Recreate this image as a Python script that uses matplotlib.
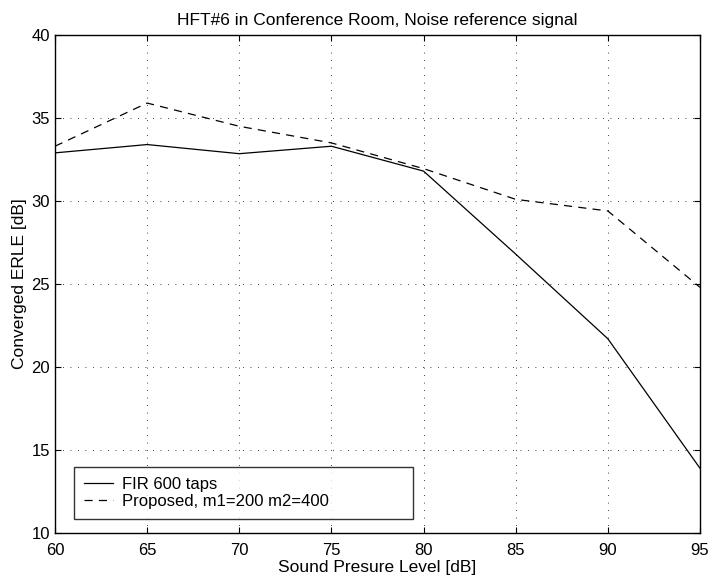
import numpy as np
import matplotlib
matplotlib.use('Agg')
import matplotlib.pyplot as plt

plt.rcParams['font.family'] = ['Liberation Sans', 'DejaVu Sans']

spl = [60, 65, 70, 75, 80, 85, 90, 95]
erle_fir = [32.9, 33.4, 32.85, 33.3, 31.8, 26.8, 21.7, 13.9]
erle_proposed = [33.3, 35.9, 34.5, 33.5, 31.95, 30.1, 29.4, 24.8]
label_fir = 'FIR 600 taps'
label_proposed = 'Proposed, m1=200 m2=400'


def main():
    fig = plt.figure(figsize=(7.13, 5.82), dpi=100)
    ax = fig.add_axes([55 / 713, 1 - 533 / 582, 645 / 713, 498 / 582])

    ax.plot(spl, erle_fir, color='k', lw=0.9, label=label_fir)
    ax.plot(spl, erle_proposed, color='k', lw=0.9, dashes=(6.5, 5),
            label=label_proposed)

    ax.set_xlim(60, 95)
    ax.set_ylim(10, 40)
    ax.set_xticks(np.arange(60, 96, 5))
    ax.set_yticks(np.arange(10, 41, 5))
    ax.grid(True, color='k', linestyle=(0, (1, 8)), lw=0.6)
    ax.tick_params(direction='in', top=True, right=True, labelsize=12,
                   length=4, width=0.8)
    ax.tick_params(axis='x', pad=7.5)
    ax.tick_params(axis='y', pad=3.5)
    for s in ax.spines.values():
        s.set_linewidth(1.0)

    ax.set_title('HFT#6 in Conference Room, Noise reference signal',
                 fontsize=12.5, pad=7)
    ax.set_xlabel('Sound Presure Level [dB]', fontsize=12.5, labelpad=1)
    ax.set_ylabel('Converged ERLE [dB]', fontsize=12.5, labelpad=3)

    leg = ax.legend(loc='lower left',
                    bbox_to_anchor=(19 / 645, 14 / 498, 339 / 645, 0.1),
                    mode='expand', fontsize=12, frameon=True, fancybox=False,
                    borderaxespad=0, handlelength=1.75, labelspacing=0.15,
                    borderpad=0.6, handletextpad=0.5)
    leg.get_frame().set_edgecolor('k')
    leg.get_frame().set_linewidth(1.0)

    fig.savefig('out.png', dpi=100)


if __name__ == '__main__':
    main()
